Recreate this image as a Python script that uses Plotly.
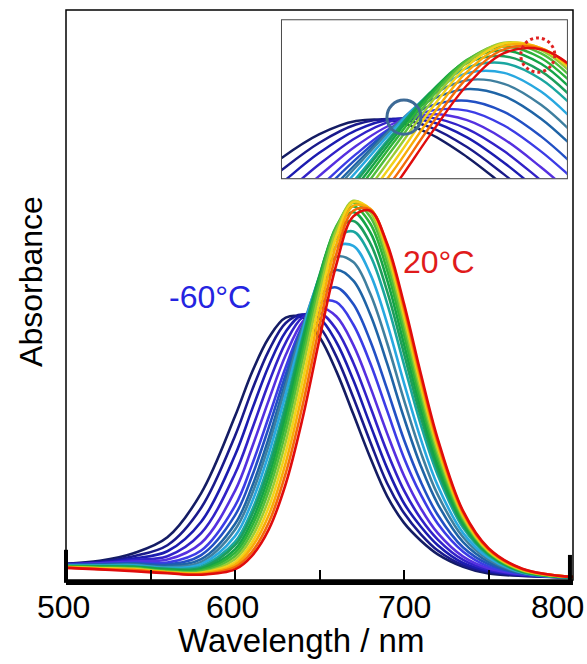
import plotly.graph_objects as go

# ---------------- data ----------------
WAVELENGTH = [500, 520, 540, 560, 580, 600, 610, 620, 630, 640, 650, 660,
              670, 680, 690, 700, 710, 720, 735, 750, 770, 800]

# absorbance spectra, from -60 °C (first) to 20 °C (last)
curve_01 = [0.038, 0.046, 0.066, 0.108, 0.225, 0.428, 0.544, 0.636, 0.689, 0.689, 0.638, 0.547, 0.434, 0.319, 0.217, 0.146, 0.099, 0.063, 0.030, 0.012, 0.006, 0.002]
curve_02 = [0.037, 0.043, 0.058, 0.087, 0.186, 0.376, 0.496, 0.602, 0.675, 0.697, 0.665, 0.586, 0.478, 0.361, 0.251, 0.172, 0.116, 0.073, 0.034, 0.016, 0.007, 0.002]
curve_03 = [0.037, 0.041, 0.052, 0.071, 0.149, 0.325, 0.445, 0.562, 0.652, 0.697, 0.687, 0.624, 0.524, 0.406, 0.291, 0.198, 0.136, 0.087, 0.040, 0.019, 0.008, 0.002]
curve_04 = [0.036, 0.039, 0.048, 0.058, 0.119, 0.276, 0.393, 0.517, 0.623, 0.690, 0.702, 0.658, 0.570, 0.454, 0.334, 0.232, 0.157, 0.102, 0.048, 0.022, 0.009, 0.002]
curve_05 = [0.036, 0.039, 0.044, 0.049, 0.093, 0.231, 0.345, 0.471, 0.590, 0.678, 0.715, 0.692, 0.617, 0.506, 0.383, 0.271, 0.184, 0.119, 0.057, 0.026, 0.010, 0.002]
curve_06 = [0.035, 0.037, 0.041, 0.041, 0.073, 0.191, 0.299, 0.427, 0.558, 0.667, 0.729, 0.730, 0.671, 0.569, 0.443, 0.318, 0.220, 0.144, 0.070, 0.031, 0.011, 0.002]
curve_07 = [0.035, 0.037, 0.039, 0.036, 0.061, 0.166, 0.269, 0.399, 0.538, 0.664, 0.748, 0.769, 0.725, 0.628, 0.500, 0.366, 0.254, 0.167, 0.081, 0.037, 0.012, 0.002]
curve_08 = [0.034, 0.035, 0.037, 0.033, 0.050, 0.143, 0.241, 0.371, 0.520, 0.663, 0.770, 0.815, 0.787, 0.698, 0.568, 0.424, 0.296, 0.196, 0.095, 0.043, 0.013, 0.002]
curve_09 = [0.033, 0.034, 0.035, 0.029, 0.043, 0.128, 0.222, 0.352, 0.507, 0.663, 0.787, 0.850, 0.836, 0.753, 0.622, 0.471, 0.332, 0.220, 0.108, 0.049, 0.014, 0.002]
curve_10 = [0.033, 0.033, 0.034, 0.027, 0.037, 0.111, 0.201, 0.329, 0.487, 0.653, 0.796, 0.878, 0.879, 0.805, 0.674, 0.516, 0.367, 0.244, 0.119, 0.054, 0.015, 0.002]
curve_11 = [0.032, 0.032, 0.032, 0.025, 0.031, 0.096, 0.179, 0.303, 0.462, 0.638, 0.796, 0.899, 0.917, 0.854, 0.727, 0.565, 0.405, 0.272, 0.133, 0.060, 0.016, 0.002]
curve_12 = [0.032, 0.031, 0.030, 0.024, 0.027, 0.087, 0.167, 0.288, 0.449, 0.632, 0.801, 0.917, 0.945, 0.886, 0.759, 0.594, 0.426, 0.286, 0.139, 0.063, 0.017, 0.002]
curve_13 = [0.031, 0.030, 0.029, 0.022, 0.023, 0.076, 0.151, 0.269, 0.430, 0.618, 0.798, 0.927, 0.968, 0.915, 0.789, 0.619, 0.446, 0.298, 0.145, 0.065, 0.018, 0.003]
curve_14 = [0.031, 0.029, 0.027, 0.020, 0.021, 0.067, 0.137, 0.250, 0.409, 0.601, 0.789, 0.931, 0.983, 0.938, 0.815, 0.644, 0.466, 0.313, 0.152, 0.068, 0.019, 0.003]
curve_15 = [0.030, 0.028, 0.026, 0.018, 0.018, 0.058, 0.122, 0.231, 0.386, 0.579, 0.775, 0.928, 0.993, 0.956, 0.836, 0.664, 0.483, 0.324, 0.157, 0.070, 0.020, 0.003]
curve_16 = [0.029, 0.026, 0.025, 0.017, 0.015, 0.050, 0.108, 0.209, 0.360, 0.553, 0.756, 0.920, 0.998, 0.969, 0.854, 0.682, 0.497, 0.335, 0.161, 0.071, 0.021, 0.003]
curve_17 = [0.029, 0.026, 0.023, 0.015, 0.014, 0.042, 0.094, 0.188, 0.333, 0.523, 0.730, 0.905, 0.995, 0.976, 0.867, 0.697, 0.511, 0.346, 0.166, 0.073, 0.022, 0.003]
curve_18 = [0.028, 0.024, 0.022, 0.015, 0.012, 0.035, 0.082, 0.167, 0.305, 0.491, 0.700, 0.883, 0.985, 0.977, 0.875, 0.708, 0.521, 0.353, 0.169, 0.075, 0.023, 0.003]
curve_19 = [0.028, 0.024, 0.021, 0.014, 0.010, 0.029, 0.069, 0.147, 0.277, 0.457, 0.667, 0.858, 0.972, 0.975, 0.881, 0.718, 0.532, 0.361, 0.174, 0.077, 0.024, 0.003]
curve_20 = [0.027, 0.023, 0.018, 0.013, 0.009, 0.023, 0.059, 0.129, 0.249, 0.423, 0.633, 0.830, 0.957, 0.972, 0.885, 0.726, 0.540, 0.368, 0.177, 0.079, 0.025, 0.003]

CURVES = [curve_01, curve_02, curve_03, curve_04, curve_05, curve_06, curve_07,
          curve_08, curve_09, curve_10, curve_11, curve_12, curve_13, curve_14,
          curve_15, curve_16, curve_17, curve_18, curve_19, curve_20]

COLORS = ["#141c64", "#1a1a8c", "#1c1cb0", "#3222c8", "#5530e0", "#3c3ce6",
          "#2250c4", "#1f64a6", "#3f7f9f", "#28a8e0", "#1aa6a0", "#1c9e5c",
          "#14a446", "#2db23a", "#52be3c", "#9ccc34", "#f2d21a", "#f8ac08",
          "#f46a0a", "#e00c0c"]

X_TICKS = [500, 550, 600, 650, 700, 750, 800]
X_LABEL_VALUES = [500, 600, 700, 800]
X_LABEL_TEXT = ["500", "600", "700", "800"]
X_LABEL_SHIFT = [-3, -3, 0, -16]
LOW_T_LABEL = "-60°C"
HIGH_T_LABEL = "20°C"

FONT = "Liberation Sans, Arial, sans-serif"

fig = go.Figure()

# main spectra
for ys, col in zip(CURVES, COLORS):
    fig.add_trace(go.Scatter(x=WAVELENGTH, y=ys, mode="lines",
                             line=dict(color=col, width=2.6, shape="spline", smoothing=1.0),
                             showlegend=False, hoverinfo="skip"))
# inset (zoom on the same spectra)
for ys, col in zip(CURVES, COLORS):
    fig.add_trace(go.Scatter(x=WAVELENGTH, y=ys, mode="lines", xaxis="x2", yaxis="y2",
                             line=dict(color=col, width=2.4, shape="spline", smoothing=1.0),
                             showlegend=False, hoverinfo="skip"))

INSET_X = [0.426, 0.988]
INSET_Y = [0.705, 0.982]

# tick labels as annotations (so the last one stays inside the page)
tick_annotations = []
for val, txt, sh in zip(X_LABEL_VALUES, X_LABEL_TEXT, X_LABEL_SHIFT):
    tick_annotations.append(dict(
        text=txt, xref="x", yref="paper", x=val, y=-0.047,
        xanchor="center", yanchor="middle", showarrow=False, xshift=sh,
        font=dict(size=32, color="black", family=FONT)))

fig.update_layout(
    width=587, height=664,
    margin=dict(l=66, r=14, t=10, b=84),
    paper_bgcolor="white", plot_bgcolor="white",
    font=dict(family=FONT, color="black"),
    xaxis=dict(range=[500, 800], domain=[0, 1], showline=True, linewidth=5, linecolor="black",
               ticks="inside", ticklen=10, tickwidth=2, tickcolor="black",
               tickvals=X_TICKS, showticklabels=False,
               showgrid=False, zeroline=False),
    yaxis=dict(range=[-0.005, 1.503], showticklabels=False, showgrid=False,
               zeroline=False, showline=False, ticks=""),
    xaxis2=dict(domain=INSET_X, anchor="y2", range=[610, 687], visible=False),
    yaxis2=dict(domain=INSET_Y, anchor="x2", range=[0.463, 1.087], visible=False),
    shapes=[
        dict(type="rect", xref="paper", yref="paper", x0=0, x1=1, y0=0, y1=1,
             line=dict(color="black", width=1.5), layer="above"),
        dict(type="rect", xref="paper", yref="paper", x0=INSET_X[0], x1=INSET_X[1],
             y0=INSET_Y[0], y1=INSET_Y[1], fillcolor="white",
             line=dict(color="#4a4a4a", width=2), layer="below"),
        dict(type="line", xref="paper", yref="paper", x0=0, x1=0, y0=-0.005, y1=0.053,
             line=dict(color="black", width=4)),
        dict(type="line", xref="paper", yref="paper", x0=0.994, x1=0.994, y0=-0.005, y1=0.044,
             line=dict(color="black", width=4)),
        dict(type="circle", xref="paper", yref="paper", x0=0.633, x1=0.700, y0=0.782, y1=0.842,
             line=dict(color="#3d6a96", width=3)),
        dict(type="circle", xref="paper", yref="paper", x0=0.897, x1=0.964, y0=0.891, y1=0.951,
             line=dict(color="#e02020", width=3, dash="dot")),
    ],
    annotations=tick_annotations + [
        dict(text=LOW_T_LABEL, xref="paper", yref="paper", x=0.284, y=0.4965,
             xanchor="center", yanchor="middle",
             showarrow=False, font=dict(size=32, color="#2424e0", family=FONT)),
        dict(text=HIGH_T_LABEL, xref="paper", yref="paper", x=0.736, y=0.558,
             xanchor="center", yanchor="middle",
             showarrow=False, font=dict(size=32, color="#e01b1b", family=FONT)),
        dict(text="Absorbance", xref="paper", yref="paper", x=-0.069, y=0.523,
             xanchor="center", yanchor="middle",
             textangle=-90, showarrow=False, font=dict(size=32, color="black", family=FONT)),
        dict(text="Wavelength / nm", xref="paper", yref="paper", x=0.4635, y=-0.107,
             xanchor="center", yanchor="middle",
             showarrow=False, font=dict(size=33, color="black", family=FONT)),
    ],
)

fig.write_html("out.html")
